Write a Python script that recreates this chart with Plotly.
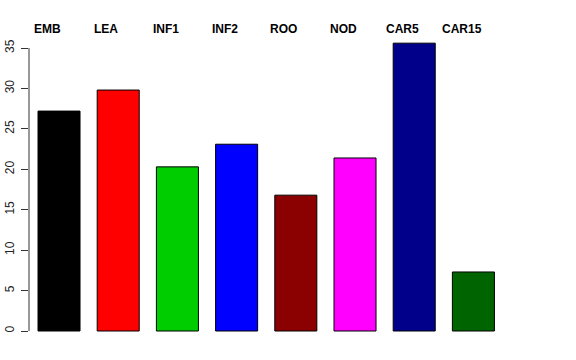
import plotly.graph_objects as go

categories = ["EMB", "LEA", "INF1", "INF2", "ROO", "NOD", "CAR5", "CAR15"]
values = [27.2, 29.8, 20.3, 23.1, 16.8, 21.4, 35.6, 7.3]
colors = ["#000000", "#FF0000", "#00CD00", "#0000FF", "#8B0000", "#FF00FF", "#00008B", "#006400"]
y_ticks = [0, 5, 10, 15, 20, 25, 30, 35]

xpos = list(range(len(categories)))

fig = go.Figure()
fig.add_trace(go.Bar(
    x=xpos, y=values, width=0.71,
    marker=dict(color=colors, line=dict(color="black", width=1)),
    showlegend=False, hoverinfo="skip",
))

for i, c in enumerate(categories):
    fig.add_annotation(
        x=i - 0.2, xref="x", y=1.0097, yref="paper",
        text="<b>%s</b>" % c, showarrow=False,
        xanchor="center", yanchor="middle",
        font=dict(family="Liberation Sans, Arial, sans-serif", size=12, color="black"),
    )

fig.add_shape(type="line", xref="paper", yref="y", x0=0, x1=0,
              y0=y_ticks[0], y1=y_ticks[-1], line=dict(color="#333333", width=1))

fig.update_layout(
    width=576, height=360,
    margin=dict(l=29, r=65, t=32, b=18, autoexpand=False),
    paper_bgcolor="white", plot_bgcolor="white",
    xaxis=dict(range=[-0.507, 7.635], showticklabels=False, showgrid=False,
               zeroline=False, showline=False, ticks="", automargin=False),
    yaxis=dict(range=[-1.36, 36.98], tickvals=y_ticks, ticktext=[str(v) for v in y_ticks],
               tickangle=-90, ticks="outside", ticklen=7, tickcolor="#333333",
               showgrid=False, zeroline=False, showline=False, automargin=False,
               ticklabelstandoff=2,
               tickfont=dict(family="Liberation Sans, Arial, sans-serif", size=12, color="#222222")),
    font=dict(family="Liberation Sans, Arial, sans-serif"),
)

fig.write_html("out.html", config={"displayModeBar": False},
               post_script="document.body.style.margin='0';document.body.style.padding='0';")
